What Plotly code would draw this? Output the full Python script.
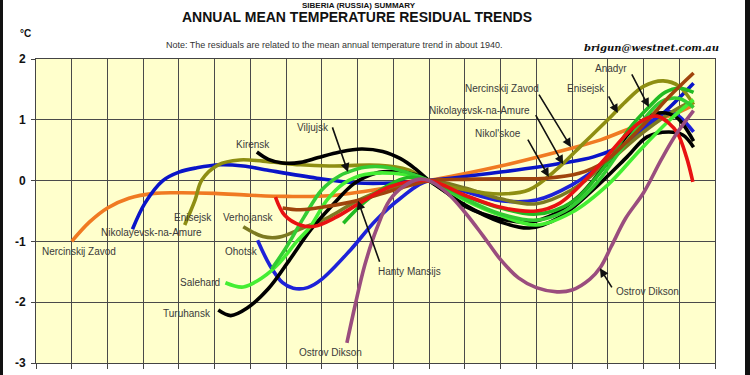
import plotly.graph_objects as go

# ---------------- data (year, residual °C) ----------------
nercinskij_x = [1840, 1845, 1850, 1856, 1863, 1870, 1880, 1890, 1900, 1912, 1930, 1940, 1960, 1979, 1988, 1999, 2008, 2014]
nercinskij_y = [-1.0, -0.68, -0.45, -0.29, -0.21, -0.2, -0.21, -0.24, -0.26, -0.25, -0.1, 0.0, 0.24, 0.52, 0.67, 0.92, 1.08, 1.24]

nikolayevsk_x = [1857, 1860.5, 1865.5, 1870, 1875, 1881.5, 1888, 1894, 1908.6, 1920, 1930, 1940, 1960, 1977.5, 1986, 1995.5, 2001, 2007.4, 2014]
nikolayevsk_y = [-0.8, -0.37, 0.0, 0.14, 0.21, 0.26, 0.24, 0.18, 0.04, -0.04, -0.04, 0.0, 0.14, 0.29, 0.39, 0.62, 0.88, 1.21, 1.6]

enisejsk_x = [1871.6, 1874.5, 1876.4, 1881, 1887, 1893.5, 1904, 1912, 1926, 1934, 1940, 1950, 1960, 1968, 1976, 1983, 1990, 1995, 2000, 2005.5, 2010, 2014]
enisejsk_y = [-0.73, -0.32, 0.01, 0.26, 0.34, 0.32, 0.26, 0.24, 0.25, 0.18, 0.0, -0.15, -0.22, -0.15, 0.2, 0.6, 1.0, 1.3, 1.55, 1.64, 1.55, 1.25]

verhojansk_x = [1888, 1893.5, 1898, 1904.6, 1912, 1920, 1930, 1940, 1950, 1960, 1970, 1980, 1990, 2000, 2010, 2014]
verhojansk_y = [-0.76, -0.92, -0.93, -0.78, -0.6, -0.33, -0.1, 0.0, -0.12, -0.3, -0.38, -0.15, 0.3, 0.8, 1.2, 1.3]

kirensk_x = [1891.8, 1895, 1899, 1904, 1909, 1915, 1921, 1927, 1932, 1936, 1940, 1945, 1950, 1960, 1968, 1975, 1982, 1990, 1997, 2004, 2009, 2014]
kirensk_y = [0.47, 0.35, 0.29, 0.3, 0.38, 0.47, 0.52, 0.48, 0.36, 0.2, 0.0, -0.2, -0.42, -0.63, -0.68, -0.55, -0.25, 0.3, 0.85, 1.11, 1.05, 0.65]

turuhansk_x = [1881, 1884.5, 1889, 1895, 1901, 1907, 1913, 1919, 1925, 1931, 1936, 1940, 1950, 1960, 1968, 1976.6, 1985.9, 1995.4, 2001, 2007, 2011, 2014]
turuhansk_y = [-2.13, -2.22, -2.1, -1.78, -1.3, -0.8, -0.4, -0.05, 0.12, 0.15, 0.1, 0.0, -0.4, -0.68, -0.78, -0.6, -0.15, 0.39, 0.72, 0.8, 0.75, 0.55]

viljujsk_x = [1896, 1900, 1905, 1910, 1915, 1917.3, 1922, 1928, 1934, 1940, 1950, 1960, 1970, 1978, 1986, 1993, 2000, 2005, 2010, 2014]
viljujsk_y = [-1.45, -1.1, -0.6, -0.15, 0.08, 0.14, 0.22, 0.22, 0.13, 0.0, -0.3, -0.55, -0.65, -0.5, -0.1, 0.45, 1.0, 1.3, 1.35, 1.2]

salehard_x = [1883, 1888, 1893.5, 1898, 1903, 1906.6, 1911.4, 1916, 1922, 1930, 1940, 1950, 1960, 1970, 1980, 1990, 1999, 2007.4, 2014]
salehard_y = [-1.68, -1.75, -1.59, -1.36, -1.0, -0.77, -0.32, -0.05, 0.1, 0.12, 0.0, -0.32, -0.57, -0.73, -0.52, -0.07, 0.5, 1.0, 1.33]

ohotsk_x = [1892, 1895.5, 1899, 1902, 1906, 1910, 1918, 1925, 1932, 1940, 1950, 1960, 1970, 1980, 1990, 2000, 2007.4, 2014]
ohotsk_y = [-0.98, -1.4, -1.68, -1.77, -1.76, -1.62, -1.14, -0.66, -0.29, 0.0, -0.18, -0.33, -0.32, -0.07, 0.34, 0.87, 1.13, 0.8]

dikson_x = [1917, 1919.3, 1922, 1925.4, 1929, 1933, 1937, 1940, 1945, 1950, 1955, 1960, 1965, 1970, 1975.8, 1980, 1985, 1988, 1991, 1995, 2000, 2005, 2009, 2014]
dikson_y = [-2.67, -2.05, -1.39, -0.78, -0.32, -0.09, 0.02, 0.0, -0.2, -0.52, -0.9, -1.3, -1.6, -1.76, -1.83, -1.8, -1.62, -1.42, -1.08, -0.62, -0.2, 0.35, 0.75, 1.15]

hanty_x = [1897, 1899.6, 1903.9, 1908, 1913.7, 1920.6, 1929, 1940, 1950, 1960, 1970, 1976.6, 1986, 1995.5, 2000, 2003.8, 2007, 2009.5, 2012, 2013.8]
hanty_y = [-0.27, -0.57, -0.73, -0.75, -0.61, -0.37, -0.1, 0.0, -0.24, -0.44, -0.5, -0.37, 0.15, 0.78, 1.0, 1.06, 0.95, 0.78, 0.39, -0.02]

nikolskoe_x = [1899, 1904, 1912, 1920.6, 1930.4, 1940, 1950, 1960, 1973, 1982, 1988.6, 1995, 2001, 2007, 2014]
nikolskoe_y = [-0.45, -0.48, -0.42, -0.32, -0.15, 0.0, 0.02, 0.03, 0.04, 0.12, 0.29, 0.62, 0.98, 1.37, 1.77]

anadyr_x = [1916, 1922, 1928, 1934, 1940, 1950, 1960, 1970, 1980, 1990, 1996, 2001.5, 2006, 2010, 2014]
anadyr_y = [-0.7, -0.35, -0.1, 0.05, 0.0, -0.25, -0.45, -0.55, -0.35, 0.3, 0.85, 1.21, 1.45, 1.52, 1.45]

series = [
    ("Nercinskij Zavod", nercinskij_x, nercinskij_y, "#F07A22"),
    ("Nikolayevsk-na-Amure", nikolayevsk_x, nikolayevsk_y, "#0A14C8"),
    ("Ohotsk", ohotsk_x, ohotsk_y, "#1E22D8"),
    ("Verhojansk", verhojansk_x, verhojansk_y, "#7C7A22"),
    ("Enisejsk", enisejsk_x, enisejsk_y, "#8E8E12"),
    ("Kirensk", kirensk_x, kirensk_y, "#000000"),
    ("Turuhansk", turuhansk_x, turuhansk_y, "#000000"),
    ("Salehard", salehard_x, salehard_y, "#44EE33"),
    ("Viljujsk", viljujsk_x, viljujsk_y, "#33CC33"),
    ("Anadyr", anadyr_x, anadyr_y, "#22BB22"),
    ("Nikol'skoe", nikolskoe_x, nikolskoe_y, "#A0440C"),
    ("Hanty Mansijs", hanty_x, hanty_y, "#E81212"),
    ("Ostrov Dikson", dikson_x, dikson_y, "#9A4D7E"),
]

y_ticks = [-3, -2, -1, 0, 1, 2]

# label text, x, y, xanchor
labels = [
    ("Nercinskij Zavod", 1831.1, -1.16, "left"),
    ("Nikolayevsk-na-Amure", 1862.2, -0.86, "center"),
    ("Enisejsk", 1873.9, -0.6, "center"),
    ("Verhojansk", 1889.3, -0.61, "center"),
    ("Kirensk", 1890.7, 0.59, "center"),
    ("Viljujsk", 1907.5, 0.88, "center"),
    ("Ohotsk", 1887.6, -1.16, "center"),
    ("Salehard", 1875.9, -1.68, "center"),
    ("Turuhansk", 1872.2, -2.18, "center"),
    ("Ostrov Dikson", 1912.5, -2.83, "center"),
    ("Hanty Mansijs", 1934.6, -1.49, "center"),
    ("Nercinskij Zavod", 1960.4, 1.51, "center"),
    ("Nikolayevsk-na-Amure", 1954.0, 1.15, "center"),
    ("Nikol'skoe", 1959.3, 0.78, "center"),
    ("Enisejsk", 1983.9, 1.51, "center"),
    ("Anadyr", 1990.9, 1.85, "center"),
    ("Ostrov Dikson", 2001.0, -1.83, "center"),
]

# arrows: tail x, tail y, tip x, tip y
arrows = [
    (1912.8, 0.90, 1917.3, 0.14),
    (1926.3, -1.36, 1920.1, -0.33),
    (1970.5, 1.44, 1979.7, 0.55),
    (1969.6, 1.10, 1977.5, 0.27),
    (1967.4, 0.70, 1973.5, 0.06),
    (1990.0, 1.41, 1992.8, 1.11),
    (1996.5, 1.77, 2001.5, 1.21),
    (1991.4, -1.78, 1987.8, -1.44),
]

fig = go.Figure()
for name, xs, ys, col in series:
    fig.add_trace(go.Scatter(x=xs, y=ys, mode="lines", name=name,
                             line=dict(color=col, width=3.6, shape="spline", smoothing=1.0),
                             hoverinfo="skip"))

ann = []
for txt, x, y, xa in labels:
    ann.append(dict(x=x, y=y, xref="x", yref="y", text=txt, showarrow=False, xanchor=xa,
                    yanchor="middle", font=dict(family="Arial, Liberation Sans", size=10, color="#3a3a3a")))
for tx, ty, hx, hy in arrows:
    ann.append(dict(x=hx, y=hy, ax=tx, ay=ty, xref="x", yref="y", axref="x", ayref="y", text="",
                    showarrow=True, arrowhead=2, arrowsize=1.1, arrowwidth=1.6, arrowcolor="#111111"))


def px_to_paper_x(px):
    return (px - 36) / 679.0


def py_to_paper_y(py):
    return (363 - py) / 304.0


ann += [
    dict(x=px_to_paper_x(359), y=py_to_paper_y(0), xref="paper", yref="paper", showarrow=False,
         text="<b>SIBERIA (RUSSIA) SUMMARY</b>", font=dict(family="Arial, Liberation Sans", size=8, color="#111"),
         xanchor="center", yanchor="top", borderpad=0),
    dict(x=px_to_paper_x(357), y=py_to_paper_y(16.5), xref="paper", yref="paper", showarrow=False,
         text="<b>ANNUAL MEAN TEMPERATURE RESIDUAL TRENDS</b>", font=dict(family="Arial, Liberation Sans", size=14, color="#111"),
         xanchor="center", yanchor="middle", borderpad=0),
    dict(x=px_to_paper_x(25), y=py_to_paper_y(33), xref="paper", yref="paper", showarrow=False,
         text="<b>°C</b>", font=dict(family="Arial, Liberation Sans", size=10, color="#111"),
         xanchor="center", yanchor="middle"),
    dict(x=px_to_paper_x(334), y=py_to_paper_y(45), xref="paper", yref="paper", showarrow=False,
         text="Note: The residuals are related to the mean annual temperature trend in about 1940.",
         font=dict(family="Arial, Liberation Sans", size=9, color="#333"),
         xanchor="center", yanchor="middle"),
    dict(x=px_to_paper_x(651), y=py_to_paper_y(47), xref="paper", yref="paper", showarrow=False,
         text="<b><i>brigun@westnet.com.au</i></b>", font=dict(family="DejaVu Serif", size=10, color="#111"),
         xanchor="center", yanchor="middle"),
]

shapes = [
    dict(type="rect", xref="paper", yref="paper", x0=px_to_paper_x(-2), x1=px_to_paper_x(3),
         y0=py_to_paper_y(380), y1=py_to_paper_y(-5), fillcolor="#111", line=dict(width=0), layer="above"),
    dict(type="rect", xref="paper", yref="paper", x0=px_to_paper_x(745), x1=px_to_paper_x(752),
         y0=py_to_paper_y(380), y1=py_to_paper_y(-5), fillcolor="#111", line=dict(width=0), layer="above"),
]

fig.update_layout(
    width=750, height=375,
    margin=dict(l=36, r=35, t=59, b=12, autoexpand=False),
    paper_bgcolor="white",
    plot_bgcolor="#FFFFCC",
    showlegend=False,
    hovermode=False,
    annotations=ann,
    shapes=shapes,
    xaxis=dict(range=[1830, 2020], tick0=1830, dtick=10, showticklabels=False, automargin=False,
               ticks="outside", ticklen=5, tickcolor="#444", showgrid=True, gridcolor="#4a4a4a", gridwidth=1,
               showline=True, linecolor="#444", linewidth=1, mirror=True, zeroline=False, fixedrange=True),
    yaxis=dict(range=[-3, 2], tickvals=y_ticks, ticktext=[str(v) for v in y_ticks], automargin=False,
               ticks="outside", ticklen=4, tickcolor="#444", ticklabelstandoff=3,
               tickfont=dict(family="Arial, Liberation Sans", size=12, color="#111", weight="bold"),
               showgrid=True, gridcolor="#4a4a4a", gridwidth=1, zeroline=False,
               showline=True, linecolor="#444", linewidth=1, mirror=True, fixedrange=True),
)

fig.write_html("out.html", config={"staticPlot": True},
               post_script="document.body.style.margin='0';document.body.style.overflow='hidden';")
